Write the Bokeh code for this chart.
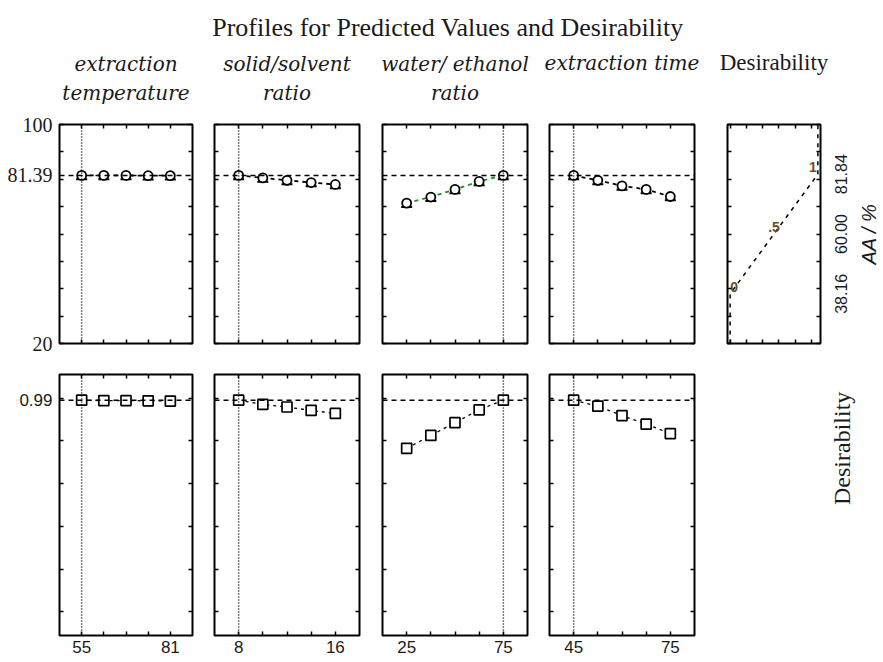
import math
from bokeh.plotting import figure
from bokeh.layouts import column, row
from bokeh.models import (Range1d, FixedTicker, LinearAxis, Span, Title, Whisker,
                          ColumnDataSource, TeeHead, PrintfTickFormatter)
from bokeh.core.properties import value
from bokeh.embed import file_html
from bokeh.resources import INLINE

# ---------------- data ----------------
chart_title = "Profiles for Predicted Values and Desirability"
factor_titles = [["extraction", "temperature"], ["solid/solvent", "ratio"],
                 ["water/ ethanol", "ratio"], ["extraction time"]]
factor_levels = [
    [55, 61.5, 68, 74.5, 81],
    [8, 10, 12, 14, 16],
    [25, 37.5, 50, 62.5, 75],
    [45, 52.5, 60, 67.5, 75],
]
factor_tick_labels = [[55, 81], [8, 16], [25, 75], [45, 75]]
current_levels = [55, 8, 75, 45]

aa_values = [
    [81.4, 81.4, 81.4, 81.3, 81.3],
    [81.4, 80.5, 79.6, 78.8, 78.1],
    [71.3, 73.5, 76.3, 79.2, 81.4],
    [81.4, 79.6, 77.6, 76.3, 73.7],
]
aa_ci = [
    [1.4, 1.4, 1.4, 1.4, 1.4],
    [1.4, 1.4, 1.4, 1.4, 1.4],
    [1.4, 1.4, 1.4, 1.4, 1.4],
    [1.4, 1.4, 1.4, 1.4, 1.4],
]
desirability_values = [
    [0.99, 0.988, 0.988, 0.987, 0.986],
    [0.99, 0.97, 0.958, 0.942, 0.928],
    [0.765, 0.825, 0.885, 0.945, 0.99],
    [0.99, 0.962, 0.918, 0.878, 0.834],
]
aa_current = 81.39
desirability_current = 0.99

aa_range = [20, 100]
aa_label_ticks = [20, 81.39, 100]
aa_minor_ticks = [20, 30, 40, 50, 60, 70, 80, 90, 100]
aa_axis_title = "AA / %"
d_range = [-0.11, 1.11]
d_label_ticks = [0.99]
d_minor_ticks = [0, 0.2, 0.4, 0.6, 0.8, 1.0]
d_axis_title = "Desirability"

d_fn_desirability = [0, 0, 0.5, 1, 1]
d_fn_aa = [20, 38.16, 60.00, 81.84, 100]
d_fn_point_labels = ["0", ".5", "1"]
d_fn_label_ticks = [38.16, 60.00, 81.84]
d_fn_x_range = [-0.03, 1.03]
d_fn_x_ticks = [0, 0.185, 0.37, 0.555, 0.74, 0.925]

line_colors = ["black", "black", "#1f8f1f", "black"]

# ---------------- layout constants ----------------
COLS = [(203, 59, 11), (167, 11, 11), (168, 12, 11), (172, 11, 16)]
P5W, P5L, P5R = 119, 17, 9
STRIP_W = 51
TITLE_H = 42
TOP_H, TOP_BT, TOP_BB = 314, 82, 13
BOT_H, BOT_BT, BOT_BB = 304, 18, 25
POINT_LABEL_DX = [4, 0, -5]   # keep the end labels inside the panel

SERIF = "Liberation Serif"
SANS = "Liberation Sans"
HEAD = "DejaVu Serif"


def base_fig(w, h, bl, br, bt, bb, xr, yr, outline=True):
    p = figure(width=w, height=h, x_range=Range1d(*xr), y_range=Range1d(*yr),
               output_backend="svg", toolbar_location=None,
               x_axis_location=None, y_axis_location=None,
               min_border_left=bl, min_border_right=br,
               min_border_top=bt, min_border_bottom=bb)
    p.grid.visible = False
    p.outline_line_color = "black" if outline else None
    p.outline_line_width = 2
    p.background_fill_color = "white"
    p.border_fill_color = "white"
    return p


def add_axis(p, side, minor, major=(), fmt="%g", font=SANS, size="16px",
             style="normal", standoff=0):
    ax = LinearAxis(ticker=FixedTicker(ticks=list(major), minor_ticks=list(minor)))
    ax.axis_line_color = None
    ax.major_tick_in = 0
    ax.major_tick_out = 0
    ax.minor_tick_in = 4
    ax.minor_tick_out = 0
    ax.minor_tick_line_color = "black"
    ax.minor_tick_line_width = 1.5
    ax.major_label_standoff = standoff
    ax.formatter = PrintfTickFormatter(format=fmt)
    ax.major_label_text_font = font
    ax.major_label_text_font_size = size
    ax.major_label_text_font_style = style
    ax.major_label_text_color = "#1a1a1a"
    p.add_layout(ax, side)
    return ax


def head_title(text, font, size, style, standoff):
    return Title(text=text, align="center", text_font=font, text_font_size=size,
                 text_font_style=style, text_color="#1a1a1a", standoff=standoff)


def spacer_title(gap):
    return Title(text=" ", text_font_size="1px", standoff=gap)


top_figs, bot_figs = [], []
for i, levels in enumerate(factor_levels):
    w, bl, br = COLS[i]
    step = levels[1] - levels[0]
    xr = (levels[0] - step, levels[-1] + step)
    names = factor_titles[i]

    # ---- top row: predicted AA ----
    p = base_fig(w, TOP_H, bl, br, TOP_BT, TOP_BB, xr, aa_range)
    add_axis(p, "left", aa_minor_ticks, aa_label_ticks if i == 0 else [],
             font=SERIF, size="20px", standoff=7)
    add_axis(p, "right", aa_minor_ticks)
    add_axis(p, "below", levels)
    add_axis(p, "above", levels)
    if len(names) == 2:
        p.add_layout(spacer_title(15), "above")
        p.add_layout(head_title(names[1], HEAD, "20px", "italic", 4), "above")
        p.add_layout(head_title(names[0], HEAD, "20px", "italic", 2), "above")
    else:
        p.add_layout(spacer_title(46), "above")
        p.add_layout(head_title(names[0], HEAD, "20px", "italic", 2), "above")
    p.add_layout(Span(location=aa_current, dimension="width", line_dash="5 4",
                      line_width=1.5, line_color="black"))
    p.add_layout(Span(location=current_levels[i], dimension="height", line_dash="1 2",
                      line_width=1.5, line_color="black"))
    p.line(levels, aa_values[i], line_dash="4 4", line_width=1.8, line_color=line_colors[i])
    src = ColumnDataSource(dict(x=levels,
                                lower=[a - c for a, c in zip(aa_values[i], aa_ci[i])],
                                upper=[a + c for a, c in zip(aa_values[i], aa_ci[i])]))
    p.add_layout(Whisker(source=src, base="x", lower="lower", upper="upper",
                         dimension="height", line_alpha=0,
                         upper_head=None,
                         lower_head=TeeHead(size=11, line_width=2, line_color="black")))
    p.scatter(levels, aa_values[i], marker="circle", size=9, fill_color="white",
              line_color="black", line_width=1.8)
    top_figs.append(p)

    # ---- bottom row: desirability ----
    q = base_fig(w, BOT_H, bl, br, BOT_BT, BOT_BB, xr, d_range)
    add_axis(q, "left", d_minor_ticks, d_label_ticks if i == 0 else [],
             font=SANS, size="17px", standoff=7)
    add_axis(q, "right", d_minor_ticks)
    add_axis(q, "above", levels)
    add_axis(q, "below", levels, factor_tick_labels[i], font=SANS, size="17px", standoff=5)
    q.add_layout(Span(location=desirability_current, dimension="width", line_dash="5 4",
                      line_width=1.5, line_color="black"))
    q.add_layout(Span(location=current_levels[i], dimension="height", line_dash="1 2",
                      line_width=1.5, line_color="black"))
    q.line(levels, desirability_values[i], line_dash="3 4", line_width=1.3, line_color="black")
    q.scatter(levels, desirability_values[i], marker="square", size=10, fill_color="white",
              line_color="black", line_width=1.7)
    bot_figs.append(q)

# ---- desirability function panel ----
p5 = base_fig(P5W, TOP_H, P5L, P5R, TOP_BT, TOP_BB, d_fn_x_range, aa_range)
add_axis(p5, "left", aa_minor_ticks)
add_axis(p5, "right", aa_minor_ticks)
add_axis(p5, "above", d_fn_x_ticks)
add_axis(p5, "below", d_fn_x_ticks)
p5.add_layout(spacer_title(47), "above")
p5.add_layout(head_title("Desirability", SERIF, "23px", "normal", 0), "above")
p5.line(d_fn_desirability, d_fn_aa, line_dash="4 5", line_width=1.5, line_color="black")
lbl_src = ColumnDataSource(dict(x=d_fn_desirability[1:4], y=d_fn_aa[1:4],
                                text=d_fn_point_labels, dx=POINT_LABEL_DX))
p5.text(x="x", y="y", text="text", x_offset="dx", source=lbl_src,
        text_align="center", text_baseline="middle", y_offset=-7,
        text_font=value(SANS), text_font_size="14px", text_font_style="bold",
        text_color="#6a5020")
top_figs.append(p5)

# ---- label strip right of the desirability function (same y scale) ----
strip = base_fig(STRIP_W, TOP_H, 0, 0, TOP_BT, TOP_BB, (0, STRIP_W), aa_range, outline=False)
strip.text(x=[11] * len(d_fn_label_ticks), y=d_fn_label_ticks,
           text=["%.2f" % v for v in d_fn_label_ticks], angle=math.pi / 2,
           text_align="center", text_baseline="middle",
           text_font=value(SANS), text_font_size="16px", text_color="#1a1a1a")
strip.text(x=[39], y=[sum(aa_range) / 2], text=[aa_axis_title], angle=math.pi / 2,
           text_align="center", text_baseline="middle", text_font=value(SANS),
           text_font_size="20px", text_font_style="italic", text_color="#1a1a1a")
top_figs.append(strip)

# ---- bottom right: row label ----
q5 = base_fig(P5W + STRIP_W, BOT_H, P5L, STRIP_W + P5R, BOT_BT, BOT_BB, (0, 1), (0, 1),
              outline=False)
lax = LinearAxis(ticker=FixedTicker(ticks=[], minor_ticks=[]))
lax.axis_line_color = None
lax.major_tick_out = 0
lax.minor_tick_out = 0
lax.axis_label = d_axis_title
lax.axis_label_text_font = SERIF
lax.axis_label_text_font_size = "24px"
lax.axis_label_text_font_style = "normal"
lax.axis_label_text_color = "#1a1a1a"
lax.axis_label_standoff = 21
if "axis_label_orientation" in lax.properties():
    lax.axis_label_orientation = math.pi / 2
q5.add_layout(lax, "right")
bot_figs.append(q5)

# ---- main title ----
tf = figure(width=880, height=TITLE_H, x_range=Range1d(0, 1), y_range=Range1d(0, 1),
            output_backend="svg", toolbar_location=None,
            x_axis_location=None, y_axis_location=None,
            min_border_left=15, min_border_right=0, min_border_top=TITLE_H - 1,
            min_border_bottom=0, title=chart_title)
tf.grid.visible = False
tf.outline_line_color = None
tf.title.align = "center"
tf.title.text_font = SERIF
tf.title.text_font_size = "26px"
tf.title.text_font_style = "normal"
tf.title.text_color = "#1a1a1a"
tf.title.standoff = 0

layout = column(tf, row(*top_figs), row(*bot_figs))
open("out.html", "w").write(file_html(layout, INLINE))
